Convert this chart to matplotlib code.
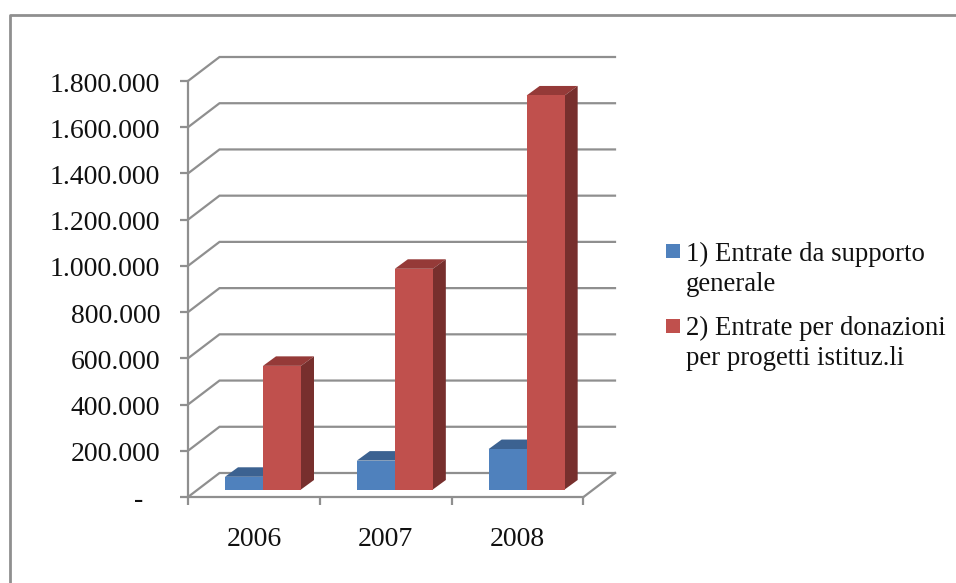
# -*- coding: utf-8 -*-
"""
Entrate 2006-2008, clustered columns with a 3D look
"""

import matplotlib
matplotlib.use('Agg')
import matplotlib.pyplot as plt
from matplotlib.patches import Polygon, Rectangle

plt.rcParams['font.family'] = ['Liberation Serif', 'DejaVu Serif']

years = ['2006', '2007', '2008']
supporto = [55000, 125000, 175000]
donazioni = [535000, 955000, 1705000]
y_ticks = [0, 200000, 400000, 600000, 800000, 1000000, 1200000, 1400000, 1600000, 1800000]
y_labels = ['-', '200.000', '400.000', '600.000', '800.000', '1.000.000',
            '1.200.000', '1.400.000', '1.600.000', '1.800.000']

W, H = 956, 583
GREY = '#8f8f8f'
BLUE = ('#4f81bd', '#3c6291')
RED = ('#c0504d', '#953a38', '#772f2d')
LW = 1.6

fig = plt.figure(figsize=(W / 100, H / 100), dpi=100)
ax = fig.add_axes([188 / W, 1 - 497 / H, 395.5 / W, 416 / H])
ax.set_xlim(0, 3)
ax.set_ylim(0, 1800000)
for s in ax.spines.values():
    s.set_visible(False)
ax.patch.set_alpha(0)

# data units per pixel, used for the fake depth
ux = 3 / 395.5
uy = 1800000 / 416
wall_dx, wall_dy = 31.5 * ux, 24 * uy
bar_dx, bar_dy = 13 * ux, 9.5 * uy
bar_w = 38 * ux
start = 37 * ux
base = 7.5 * uy

# walls and floor
for v in y_ticks:
    ax.plot([0, wall_dx, 3 + wall_dx], [v, v + wall_dy, v + wall_dy],
            color=GREY, lw=LW, clip_on=False, zorder=1, solid_joinstyle='miter')
ax.plot([3, 3 + wall_dx], [0, wall_dy], color=GREY, lw=LW, clip_on=False, zorder=1)
ax.plot([0, 0], [0, 1800000], color=GREY, lw=LW, clip_on=False, zorder=2)
ax.plot([0, 3], [0, 0], color=GREY, lw=LW, clip_on=False, zorder=2)

ax.set_xticks([0, 1, 2, 3])
ax.set_xticklabels([])
ax.set_yticks(y_ticks)
ax.set_yticklabels([])
ax.tick_params(axis='x', length=6, width=LW, color=GREY)
ax.tick_params(axis='y', length=5.5, width=LW, color=GREY)

# columns, back faces first
for i in range(len(years)):
    x1 = i + start
    x2 = x1 + bar_w
    top1 = base + supporto[i]
    top2 = base + donazioni[i]
    ax.add_patch(Polygon([(x1, top1), (x1 + bar_dx, top1 + bar_dy),
                          (x2 + bar_dx, top1 + bar_dy), (x2, top1)],
                         fc=BLUE[1], ec='none', zorder=3))
    ax.bar(x1, supporto[i], bar_w, bottom=base, align='edge', color=BLUE[0], zorder=4)
    ax.add_patch(Polygon([(x2, top2), (x2 + bar_dx, top2 + bar_dy),
                          (x2 + bar_w + bar_dx, top2 + bar_dy), (x2 + bar_w, top2)],
                         fc=RED[1], ec='none', zorder=5, clip_on=False))
    ax.add_patch(Polygon([(x2 + bar_w, base), (x2 + bar_w + bar_dx, base + bar_dy),
                          (x2 + bar_w + bar_dx, top2 + bar_dy), (x2 + bar_w, top2)],
                         fc=RED[2], ec='none', zorder=5, clip_on=False))
    ax.bar(x2, donazioni[i], bar_w, bottom=base, align='edge', color=RED[0], zorder=6)

# axis labels
for v, lab in zip(y_ticks, y_labels):
    off = -45 if lab == '-' else -28
    ax.annotate(lab, (0, v), xytext=(off, -1), textcoords='offset pixels',
                ha='right', va='center_baseline', fontsize=20, color='#111111')
for i, lab in enumerate(years):
    ax.annotate(lab, (i + 0.5, 0), xytext=(0, -40), textcoords='offset pixels',
                ha='center', va='center_baseline', fontsize=20, color='#111111')

# legend, placed by hand because the labels wrap over two lines
def px(x, y):
    return x / W, 1 - y / H

entries = [(251, BLUE[0], '1) Entrate da supporto\ngenerale'),
           (325.5, RED[0], '2) Entrate per donazioni\nper progetti istituz.li')]
for y, col, txt in entries:
    fig.patches.append(Rectangle(px(666, y + 7), 14 / W, 14 / H,
                                 transform=fig.transFigure, fc=col, ec='none'))
    fig.text(*px(686, y - 9.5), txt, fontsize=19.3, va='top', ha='left',
             linespacing=1.28, color='#111111')

# outer frame, running off the right and bottom edges
fig.add_artist(plt.Line2D([9.5 / W, 9.5 / W, 1], [0, 1 - 15 / H, 1 - 15 / H],
                          color=GREY, lw=2, transform=fig.transFigure))

fig.savefig('out.png', dpi=100)
